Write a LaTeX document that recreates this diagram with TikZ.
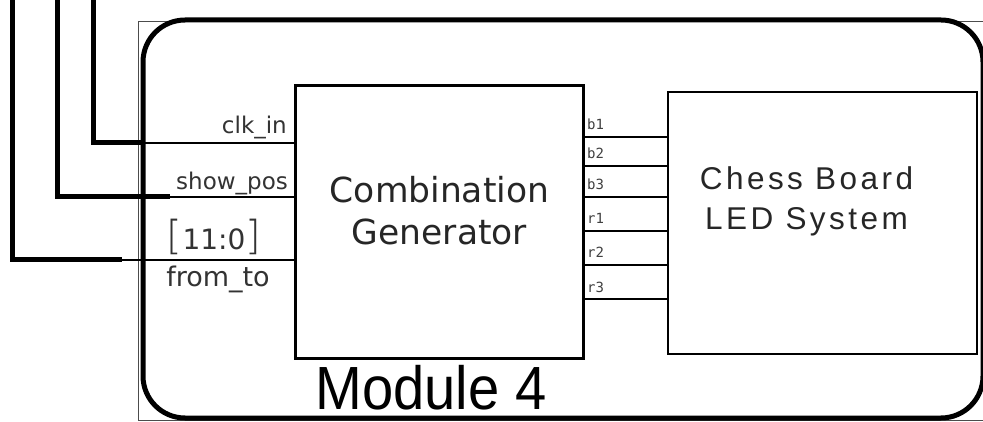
\documentclass[tikz,border=0pt]{standalone}
\usepackage{fontspec}
\setmainfont{DejaVu Sans}
\newfontfamily\arialf{Liberation Sans}
\newfontfamily\arialls[LetterSpace=11]{Liberation Sans}
\newfontfamily\monof{DejaVu Sans Mono}
\newfontfamily\lightf{DejaVu Sans ExtraLight}
\usetikzlibrary{calc}
\begin{document}
\begin{tikzpicture}[x=1pt,y=-1pt,
  thickw/.style={line width=5pt},
  thinw/.style={line width=2.4pt},
  inlab/.style={font=\fontsize{23}{27}\selectfont, text=black!80, inner sep=0pt},
  outlab/.style={font=\monof\fontsize{14}{16}\selectfont, text=black!75, inner sep=0pt, anchor=base west},
  outw/.style={line width=2pt}]
\useasboundingbox (0,0) rectangle (983,422);
% thin square frame behind
\draw[line width=1pt, black!70] (138,22) rectangle (985,420);
% module frame
\draw[line width=5pt, rounded corners=42pt, fill=white] (143,20) rectangle (983,418);
% blocks
\node[draw, line width=3pt, minimum width=288pt, minimum height=273pt, anchor=north west, inner sep=0pt] (cg) at (294,84) {};
\node[font=\fontsize{34.5}{42}\selectfont, align=center, text=black!85] (cgt) at ($(cg.center)+(0,-11)$) {Combination\\Generator};
\node[draw, line width=2pt, minimum width=309pt, minimum height=262pt, anchor=north west, inner sep=0pt] (cb) at (667,91) {};
\node[font=\arialls\fontsize{31.5}{40}\selectfont, align=center, text=black!85] (cbt) at ($(cb.center)+(-16,-22)$) {Chess Board\\LED System};
\node[font=\arialf\fontsize{61}{61}\selectfont, inner sep=0pt] (mod) at (431,388) {\scalebox{0.92}[1]{Module 4}};
% inputs
\coordinate (t1) at (93,-3);
\coordinate (t2) at (57,-3);
\coordinate (t3) at (12,-3);
\coordinate (k1) at (142,143);
\coordinate (k2) at (170,197);
\coordinate (k3) at (122,260);
\draw[thickw] (t1) |- (k1);
\draw[thinw] (k1) -- (k1 -| cg.west);
\draw[thickw] (t2) |- (k2);
\draw[thinw] (k2) -- (k2 -| cg.west);
\draw[thickw] (t3) |- (k3);
\draw[thinw] (k3) -- (k3 -| cg.west);
\node[inlab, anchor=base east] (l1) at (287,134) {clk\_in};
\node[inlab, anchor=base east] (l2) at (288,190) {show\_pos};
\node[inlab, anchor=base, font=\fontsize{28}{30}\selectfont] (l3) at (214,250) {{\lightf\fontsize{40}{40}\selectfont[}11:0{\lightf\fontsize{40}{40}\selectfont]}};
\node[inlab, anchor=base, font=\fontsize{27}{30}\selectfont] (l4) at (218,287) {from\_to};
% outputs
\foreach \y/\t [count=\i] in {137/b1,166/b2,197/b3,231/r1,265/r2,299/r3}{
  \coordinate (o\i) at (582,\y);
  \draw[outw] (o\i) -- (o\i -| cb.west);
  \node[outlab] (ol\i) at (587,\y-7) {\t};
}
\end{tikzpicture}
\end{document}
